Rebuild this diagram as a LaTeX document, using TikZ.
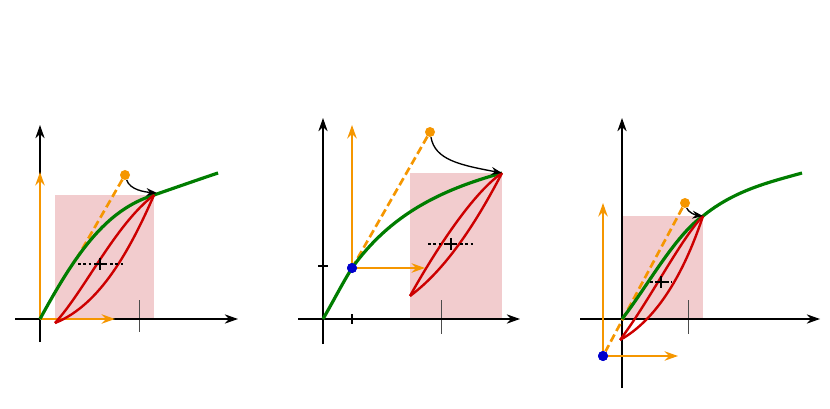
\documentclass[tikz,border=0pt]{standalone}
\usetikzlibrary{arrows.meta}
\definecolor{og}{RGB}{245,150,0}
\definecolor{gr}{RGB}{0,125,0}
\definecolor{rd}{RGB}{205,0,0}
\definecolor{pk}{RGB}{242,204,206}
\definecolor{bl}{RGB}{0,0,205}
\tikzset{
 ax/.style={line width=1pt,-{Stealth[length=10pt,width=7pt]}},
 oarr/.style={og,line width=1.5pt,-{Stealth[length=10pt,width=7pt]}},
 odash/.style={og,line width=2pt,dash pattern=on 6pt off 3pt},
 grn/.style={gr,line width=2.4pt},
 redc/.style={rd,line width=1.8pt},
 pinkfill/.style={fill=pk,draw=none},
 dotline/.style={line width=2pt,dash pattern=on 2pt off 2pt},
 tickthin/.style={gray!60!black,line width=0.6pt},
 tickthick/.style={line width=1.8pt},
 bendarr/.style={line width=1pt,-{Stealth[length=8pt,width=6pt]}},
 odot/.style={circle,fill=og,inner sep=0pt,minimum size=7.5pt},
 bdot/.style={circle,fill=bl,inner sep=0pt,minimum size=7.5pt}
}
\begin{document}
\begin{tikzpicture}[x={(0.75pt,0)},y={(0,-0.75pt)}]
\useasboundingbox (0,0) rectangle (830,409);
% ---- Panel 1
\fill[pinkfill] (55,195) rectangle (154,319);
\coordinate (o1) at (40,319);
\coordinate (b1) at (154,195);
\coordinate (a1) at (55,323);
\draw[tickthin] (139,300) -- (139,332);
\draw[ax] (15,319) -- (238,319);
\draw[ax] (40,342) -- (40,125);
\draw[oarr] (o1) -- (40,172);
\draw[oarr] (o1) -- (115,319);
\node[odot] (d1) at (125,175) {};
\draw[odash] (d1) -- (77,258);
\draw[grn] (o1) .. controls (75,255) and (105,210) .. (b1) .. controls (180,186) and (200,179) .. (218,173);
\draw[redc] (a1) .. controls (85,290) and (115,225) .. (b1);
\draw[redc] (a1) .. controls (100,305) and (130,250) .. (b1);
\draw[dotline] (78,264) -- (125,264);
\draw[line width=0.9pt] (94,264) -- (106,264) (100,258) -- (100,270);
\draw[bendarr] (d1) .. controls (130,190) and (145,192) .. (157,193);
% ---- Panel 2
\fill[pinkfill] (410,173) rectangle (502,319);
\coordinate (o2) at (323,319);
\coordinate (b2) at (502,173);
\coordinate (a2) at (410,296);
\draw[tickthin] (441,300) -- (441,334);
\draw[ax] (298,319) -- (520,319);
\draw[ax] (323,344) -- (323,118);
\draw[tickthick] (318,266) -- (328,266);
\draw[tickthick] (352,314) -- (352,324);
\node[bdot] (e2) at (352,268) {};
\node[odot] (d2) at (430,132) {};
\draw[oarr] (e2) -- (352,125);
\draw[oarr] (e2) -- (425,268);
\draw[odash] (d2) -- (e2);
\draw[grn] (o2) .. controls (334,300) and (342,284) .. (e2.center) .. controls (390,215) and (440,190) .. (b2);
\draw[redc] (a2) .. controls (445,270) and (475,225) .. (b2);
\draw[redc] (a2) .. controls (430,260) and (470,195) .. (b2);
\draw[dotline] (428,244) -- (474,244);
\draw[line width=0.9pt] (445,244) -- (457,244) (451,238) -- (451,250);
\node[bdot] at (352,268) {};
\draw[bendarr] (d2) .. controls (435,160) and (460,165) .. (b2);
% ---- Panel 3
\fill[pinkfill] (622,216) rectangle (703,319);
\coordinate (o3) at (622,319);
\coordinate (b3) at (703,216);
\coordinate (a3) at (620,340);
\draw[tickthin] (688,300) -- (688,334);
\draw[ax] (580,319) -- (820,319);
\draw[ax] (622,388) -- (622,118);
\draw[tickthick] (603,314) -- (603,324);
\draw[tickthick] (617,356) -- (628,356);
\node[bdot] (e3) at (603,356) {};
\node[odot] (d3) at (685,203) {};
\draw[oarr] (e3) -- (603,203);
\draw[oarr] (e3) -- (678,356);
\draw[odash] (d3) -- (e3);
\draw[grn] (o3) .. controls (645,290) and (675,235) .. (b3) .. controls (735,190) and (770,182) .. (802,173);
\draw[redc] (a3) .. controls (650,300) and (680,240) .. (b3);
\draw[redc] (a3) .. controls (665,315) and (690,255) .. (b3);
\draw[dotline] (650,282) -- (672,282);
\draw[line width=0.9pt] (655,282) -- (667,282) (661,276) -- (661,288);
\node[bdot] at (603,356) {};
\draw[bendarr] (d3) .. controls (688,212) and (695,215) .. (b3);
\end{tikzpicture}
\end{document}
